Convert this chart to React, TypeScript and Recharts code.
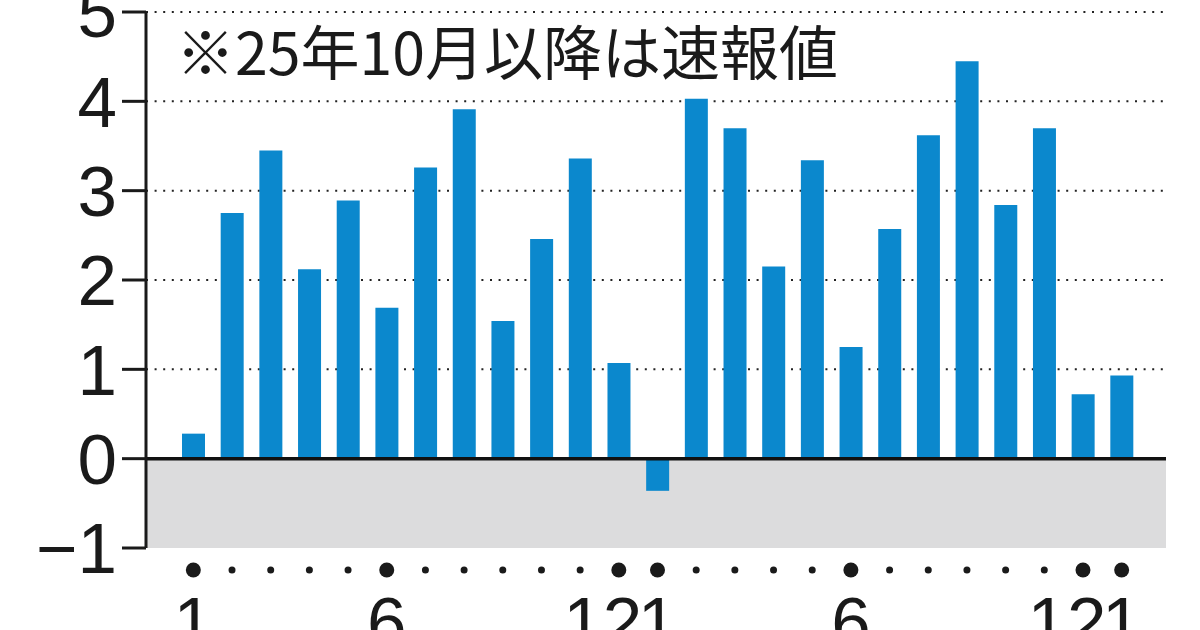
import { BarChart, Bar, XAxis, YAxis, CartesianGrid, ReferenceLine } from 'recharts';

// 2024年1月〜2026年1月の月別値
const months = ['1', '2', '3', '4', '5', '6', '7', '8', '9', '10', '11', '12', '1', '2', '3', '4', '5', '6', '7', '8', '9', '10', '11', '12', '1'];
const values = [0.28, 2.75, 3.45, 2.12, 2.89, 1.69, 3.26, 3.91, 1.54, 2.46, 3.36, 1.07, -0.36, 4.03, 3.7, 2.15, 3.34, 1.25, 2.57, 3.62, 4.45, 2.84, 3.7, 0.72, 0.93];
const yTicks = [-1, 0, 1, 2, 3, 4, 5];
const gridValues = [1, 2, 3, 4, 5];
const negativeBand = [-1, 0];
const labeledMonths = ['1', '6', '12'];
const note = '※25年10月以降は速報値';

const data = months.map((m, i) => ({ key: `${i}`, month: m, value: values[i] }));

const FONT = '"Liberation Sans", Arial, sans-serif';

function MonthTick(props: any) {
  const { x, y, payload } = props;
  const m = months[payload.index];
  const big = labeledMonths.includes(m);
  return (
    <g>
      <circle cx={x} cy={y + 22} r={big ? 7.5 : 3.5} fill="#1a1a1a" />
      {big && (
        <text
          x={m === '12' ? x - 16 : x}
          y={y + 99}
          textAnchor="middle"
          fontSize={71}
          fontFamily={FONT}
          fill="#1a1a1a"
        >
          {m}
        </text>
      )}
    </g>
  );
}

const fmt = (v: number) => (v < 0 ? `−${Math.abs(v)}` : `${v}`);

export default function App() {
  return (
    <div style={{ position: 'absolute', left: 0, top: 0, width: 1200, height: 630, background: '#fff', overflow: 'hidden' }}>
      <BarChart width={1200} height={630} data={data} margin={{ top: 12, right: 34, bottom: 0, left: 0 }}>
        {/* マイナス域の灰色帯 */}
        <CartesianGrid
          vertical={false}
          horizontalValues={negativeBand}
          stroke="none"
          horizontalFill={['none', '#dcdcdd']}
          fillOpacity={1}
        />
        <CartesianGrid
          vertical={false}
          horizontalValues={gridValues}
          stroke="#222"
          strokeWidth={2}
          strokeDasharray="2 6.6"
        />
        <XAxis
          dataKey="key"
          height={82}
          interval={0}
          axisLine={false}
          tickLine={false}
          tickSize={0}
          tickMargin={0}
          padding={{ left: 28, right: 25 }}
          tick={<MonthTick />}
        />
        <YAxis
          width={146}
          domain={[-1, 5]}
          ticks={yTicks}
          interval={0}
          tickFormatter={fmt}
          axisLine={{ stroke: '#1a1a1a', strokeWidth: 3 }}
          tickLine={{ stroke: '#1a1a1a', strokeWidth: 3 }}
          tickSize={24}
          tickMargin={5}
          tick={{ fontSize: 71, fontFamily: FONT, fill: '#1a1a1a' }}
        />
        <Bar dataKey="value" fill="#0b88cd" barSize={23} isAnimationActive={false} />
        <ReferenceLine y={0} stroke="#111" strokeWidth={3.5} />
        <text x={176} y={75} fontSize={59} fontFamily='"Noto Sans CJK JP", sans-serif' fill="#1a1a1a">
          {note}
        </text>
      </BarChart>
    </div>
  );
}
